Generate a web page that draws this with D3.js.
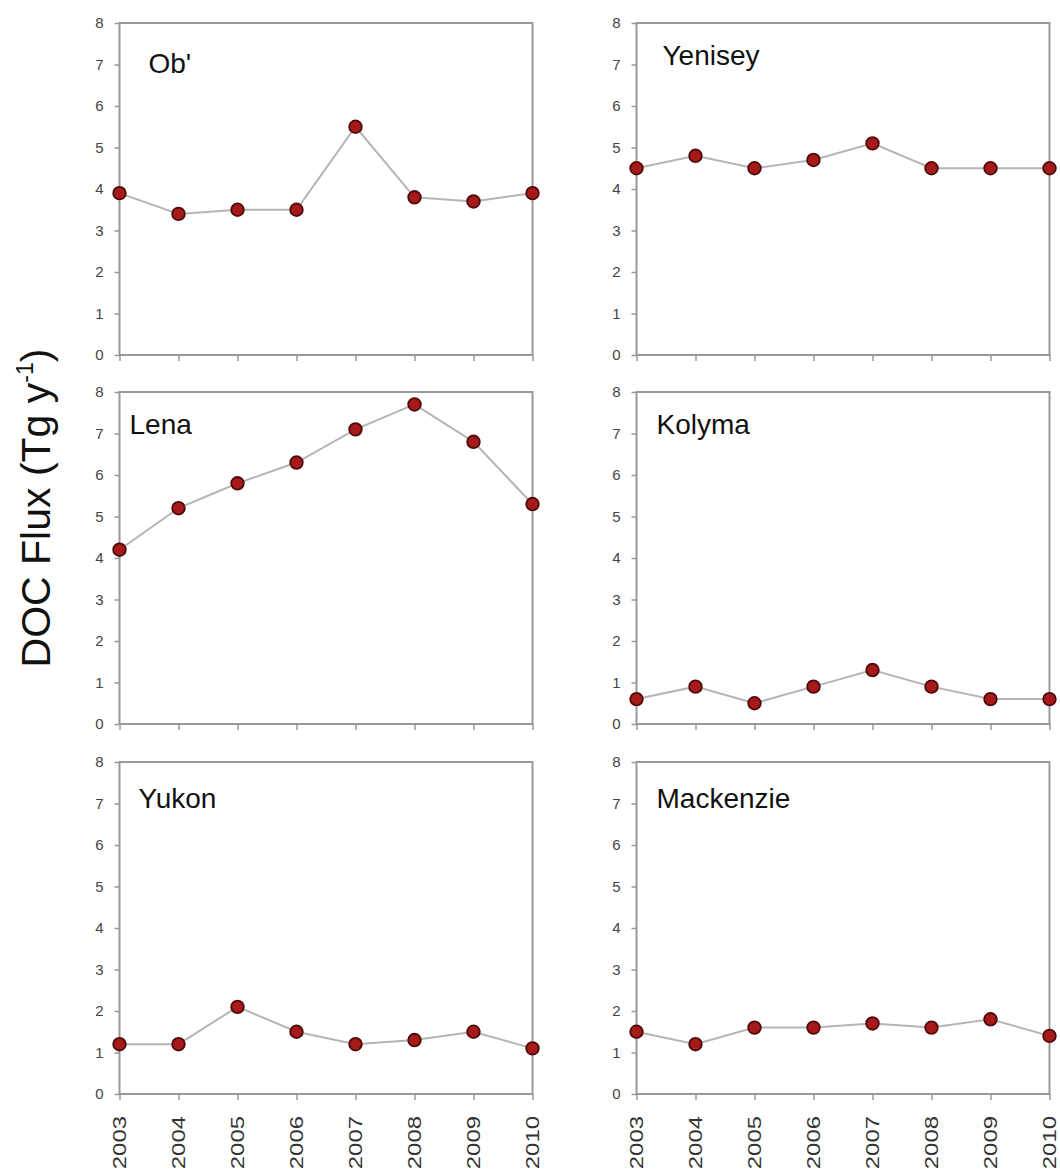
<!DOCTYPE html>
<html>
<head>
<meta charset="utf-8">
<script src="https://cdn.jsdelivr.net/npm/d3@7"></script>
<style>
  html, body { margin: 0; padding: 0; background: #fff; }
  svg { display: block; }
  text { font-family: "Liberation Sans", Arial, sans-serif; }
</style>
</head>
<body>
<svg id="chart" width="1060" height="1171"></svg>
<script>
// ---- data ----
const years = [2003, 2004, 2005, 2006, 2007, 2008, 2009, 2010];
const yTicks = [0, 1, 2, 3, 4, 5, 6, 7, 8];
const rivers = ["Ob'", "Yenisey", "Lena", "Kolyma", "Yukon", "Mackenzie"];
const obValues        = [3.9, 3.4, 3.5, 3.5, 5.5, 3.8, 3.7, 3.9];
const yeniseyValues   = [4.5, 4.8, 4.5, 4.7, 5.1, 4.5, 4.5, 4.5];
const lenaValues      = [4.2, 5.2, 5.8, 6.3, 7.1, 7.7, 6.8, 5.3];
const kolymaValues    = [0.6, 0.9, 0.5, 0.9, 1.3, 0.9, 0.6, 0.6];
const yukonValues     = [1.2, 1.2, 2.1, 1.5, 1.2, 1.3, 1.5, 1.1];
const mackenzieValues = [1.5, 1.2, 1.6, 1.6, 1.7, 1.6, 1.8, 1.4];
const seriesValues = [obValues, yeniseyValues, lenaValues, kolymaValues, yukonValues, mackenzieValues];
const yLabel = "DOC Flux (Tg y";
const yLabelSup = "-1";

// ---- layout ----
const colLeft = [119.5, 636.5];
const colWidth = 413;
const rowTop = [23, 392, 762];
const rowHeight = 332;
const titleOffsets = [[29, 50], [26, 42], [10, 42], [20, 42], [19, 46], [20, 46]];

const svg = d3.select("#chart");
const axisColor = "#999";

rivers.forEach((name, i) => {
  const col = i % 2, row = Math.floor(i / 2);
  const x0 = colLeft[col], y0 = rowTop[row];
  const g = svg.append("g").attr("transform", `translate(${x0},${y0})`);

  const x = d3.scaleLinear().domain([years[0], years[years.length - 1]]).range([0, colWidth]);
  const y = d3.scaleLinear().domain([0, 8]).range([rowHeight, 0]);

  // y axis
  const ya = g.append("g").call(d3.axisLeft(y).tickValues(yTicks).tickSize(5).tickPadding(11).tickFormat(d3.format("d")));
  ya.select(".domain").remove();
  ya.selectAll("line").attr("stroke", axisColor).attr("stroke-width", 1.5);
  ya.selectAll("text").attr("fill", "#444").style("font-size", "15px");

  // x axis
  const xa = g.append("g").attr("transform", `translate(0,${rowHeight})`)
    .call(d3.axisBottom(x).tickValues(years).tickSize(6).tickFormat(d3.format("d")));
  xa.select(".domain").remove();
  xa.selectAll("line").attr("stroke", axisColor).attr("stroke-width", 1.5);
  if (row === 2) {
    xa.selectAll("text")
      .attr("fill", "#333")
      .style("font-size", "18px")
      .attr("text-anchor", "end")
      .attr("x", 0).attr("y", 0).attr("dy", "0.35em")
      .attr("transform", "translate(0,22) rotate(-90) scale(1.33,1)");
  } else {
    xa.selectAll("text").remove();
  }

  // frame
  g.append("rect")
    .attr("x", 0).attr("y", 0)
    .attr("width", colWidth).attr("height", rowHeight)
    .attr("fill", "none").attr("stroke", axisColor).attr("stroke-width", 2);

  const data = years.map((yr, k) => ({ yr, v: seriesValues[i][k] }));

  g.append("path")
    .datum(data)
    .attr("fill", "none")
    .attr("stroke", "#b5b5b5")
    .attr("stroke-width", 2)
    .attr("d", d3.line().x(d => x(d.yr)).y(d => y(d.v)));

  g.selectAll("circle.pt")
    .data(data)
    .join("circle")
    .attr("class", "pt")
    .attr("cx", d => x(d.yr))
    .attr("cy", d => y(d.v))
    .attr("r", 6.3)
    .attr("fill", "#a81a1a")
    .attr("stroke", "#4e0a0a")
    .attr("stroke-width", 1.8);

  g.append("text")
    .attr("x", titleOffsets[i][0])
    .attr("y", titleOffsets[i][1])
    .attr("fill", "#111")
    .style("font-size", "28px")
    .text(name);
});

// y-axis label
const lbl = svg.append("text")
  .attr("transform", "translate(50,508) rotate(-90)")
  .attr("text-anchor", "middle")
  .attr("fill", "#111")
  .style("font-size", "41px");
lbl.append("tspan").text(yLabel);
lbl.append("tspan").attr("dy", -17).style("font-size", "23px").text(yLabelSup);
lbl.append("tspan").attr("dy", 17).style("font-size", "41px").text(")");
</script>
</body>
</html>
